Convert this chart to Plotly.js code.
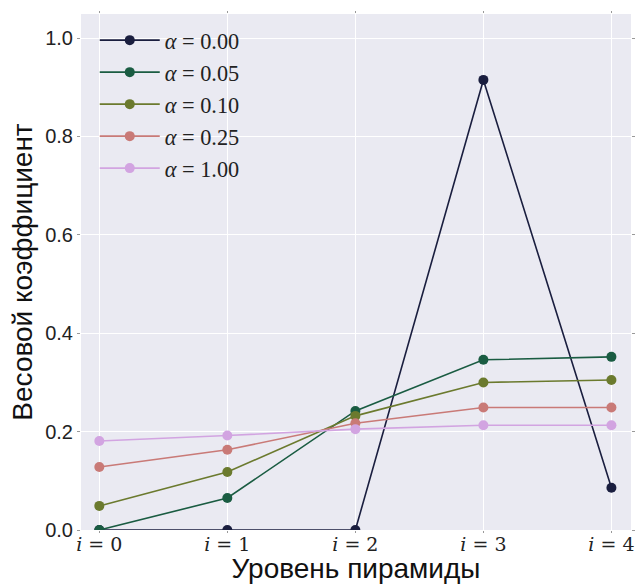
<!DOCTYPE html>
<html>
<head>
<meta charset="utf-8">
<script src="https://cdn.plot.ly/plotly-3.0.1.min.js"></script>
<style>html,body{margin:0;padding:0;background:#fff;}</style>
</head>
<body>
<div id="chart" style="width:636px;height:584px;"></div>
<script>
const levels = [0, 1, 2, 3, 4];
const levelLabels = ["<i>i</i> = 0", "<i>i</i> = 1", "<i>i</i> = 2", "<i>i</i> = 3", "<i>i</i> = 4"];
const seriesNames = ["<i>α</i> = 0.00", "<i>α</i> = 0.05", "<i>α</i> = 0.10", "<i>α</i> = 0.25", "<i>α</i> = 1.00"];
const alpha000 = [0.0, 0.0, 0.0, 0.915, 0.086];
const alpha005 = [0.0, 0.065, 0.242, 0.346, 0.352];
const alpha010 = [0.049, 0.118, 0.232, 0.300, 0.305];
const alpha025 = [0.128, 0.163, 0.217, 0.249, 0.249];
const alpha100 = [0.181, 0.192, 0.205, 0.213, 0.213];
const colors = ["#1a1e3f", "#1a5c42", "#6b7a2e", "#c97a77", "#d2a4e1"];
const yTicks = [0.0, 0.2, 0.4, 0.6, 0.8, 1.0];

const allSeries = [alpha000, alpha005, alpha010, alpha025, alpha100];
const traces = allSeries.map((ys, k) => ({
  x: levels, y: ys, name: seriesNames[k], type: 'scatter', mode: 'lines+markers',
  line: {color: colors[k], width: 1.6},
  marker: {color: colors[k], size: 10}
}));

const layout = {
  width: 636, height: 584,
  margin: {l: 81, r: 5, t: 14, b: 54},
  paper_bgcolor: '#ffffff', plot_bgcolor: '#eaeaf2',
  showlegend: true,
  legend: {x: 0.025, y: 0.99, xanchor: 'left', yanchor: 'top', bgcolor: 'rgba(0,0,0,0)',
           font: {family: 'Liberation Serif, serif', size: 22.3, color: '#222'}, tracegroupgap: 0, itemwidth: 60},
  xaxis: {range: [-0.143, 4.153], tickvals: levels, ticktext: levelLabels,
          showgrid: true, gridcolor: '#ffffff', gridwidth: 1.2, zeroline: false,
          ticks: 'outside', ticklen: 2, tickcolor: '#999', mirror: 'ticks', ticklabelstandoff: -5,
          tickfont: {family: 'DejaVu Serif, serif', size: 19, color: '#222'},
          title: {text: 'Уровень пирамиды', font: {family: 'Liberation Sans, Arial, sans-serif', size: 28, color: '#111'}, standoff: 0}},
  yaxis: {range: [0, 1.049], tickvals: yTicks, ticktext: yTicks.map(v => v.toFixed(1)),
          showgrid: true, gridcolor: '#ffffff', gridwidth: 1.2, zeroline: false,
          ticks: 'outside', ticklen: 3, tickcolor: '#999', mirror: 'ticks',
          tickfont: {family: 'Liberation Sans, Arial, sans-serif', size: 20, color: '#222'},
          title: {text: 'Весовой коэффициент', font: {family: 'Liberation Sans, Arial, sans-serif', size: 28, color: '#111'}, standoff: 4}}
};
Plotly.newPlot('chart', traces, layout, {displayModeBar: false});
</script>
</body>
</html>
